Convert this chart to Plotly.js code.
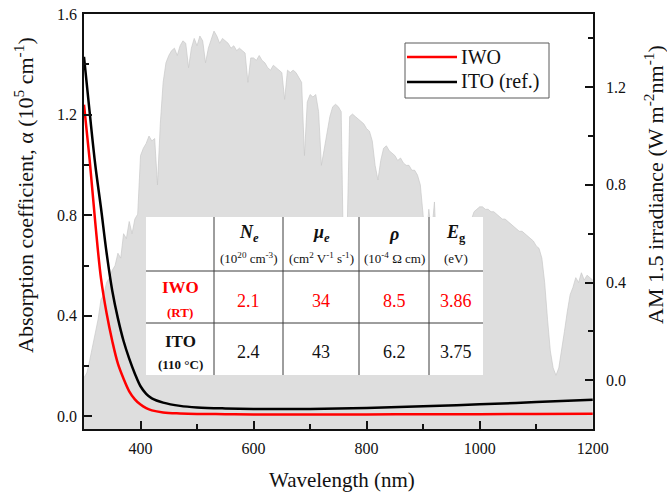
<!DOCTYPE html>
<html>
<head>
<meta charset="utf-8">
<script src="https://cdn.plot.ly/plotly-3.0.1.min.js"></script>
<style>html,body{margin:0;padding:0;background:#fff;}#chart{width:667px;height:494px;}</style>
</head>
<body>
<div id="chart"></div>
<script>
// ---------- data ----------
const wlCurve = [300,310,320,330,340,350,360,370,380,390,400,410,420,440,470,500,550,600,700,800,900,1000,1100,1200];
const iwoAlpha = [1.24,1.02,0.77,0.55,0.41,0.30,0.21,0.15,0.10,0.068,0.047,0.033,0.024,0.016,0.012,0.010,0.009,0.008,0.008,0.008,0.009,0.009,0.010,0.011];
const itoAlpha = [1.43,1.21,1.00,0.83,0.65,0.50,0.39,0.30,0.23,0.17,0.12,0.09,0.072,0.055,0.042,0.036,0.032,0.030,0.030,0.034,0.040,0.048,0.057,0.066];

const wlSun = [300,305,310,315,320,325,330,335,340,345,350,355,360,365,370,375,380,385,390,395,
 400,405,410,415,420,425,430,435,440,445,450,455,460,465,470,475,480,485,490,495,
 500,505,510,515,520,525,530,535,540,545,550,555,560,565,570,575,580,585,590,595,
 600,605,610,615,620,625,630,635,640,645,650,655,660,665,670,675,680,685,690,695,
 700,705,710,715,720,725,730,735,740,745,750,755,760,765,770,775,780,785,790,795,
 800,805,810,815,820,825,830,835,840,845,850,855,860,865,870,875,880,885,890,895,
 900,905,910,915,920,925,930,935,940,945,950,955,960,965,970,975,980,985,990,995,
 1000,1005,1010,1015,1020,1025,1030,1035,1040,1045,1050,1055,1060,1065,1070,1075,1080,1085,1090,1095,
 1100,1105,1110,1115,1120,1125,1130,1135,1140,1145,1150,1155,1160,1165,1170,1175,1180,1185,1190,1195,1200];
const sunIrr = [0.01,0.03,0.08,0.14,0.19,0.25,0.33,0.35,0.40,0.42,0.45,0.47,0.52,0.50,0.60,0.58,0.65,0.60,0.66,0.68,
 0.92,0.95,0.97,1.00,0.98,0.99,0.80,1.05,1.22,1.30,1.33,1.35,1.36,1.33,1.37,1.39,1.38,1.28,1.36,1.40,
 1.37,1.41,1.39,1.30,1.36,1.40,1.43,1.41,1.38,1.40,1.39,1.38,1.36,1.37,1.35,1.36,1.35,1.34,1.22,1.32,
 1.32,1.31,1.33,1.31,1.30,1.28,1.27,1.29,1.28,1.27,1.26,1.15,1.27,1.26,1.27,1.26,1.24,1.22,0.92,1.14,
 1.17,1.16,1.17,1.10,0.88,0.95,1.02,1.08,1.12,1.13,1.12,1.10,0.35,0.55,1.08,1.09,1.08,1.07,1.06,1.05,
 1.03,1.02,0.98,0.88,0.82,0.90,0.95,0.96,0.94,0.93,0.92,0.90,0.91,0.89,0.88,0.88,0.86,0.86,0.84,0.80,
 0.68,0.55,0.70,0.60,0.73,0.45,0.30,0.20,0.15,0.25,0.35,0.30,0.45,0.55,0.60,0.65,0.62,0.66,0.69,0.70,
 0.71,0.71,0.70,0.70,0.69,0.69,0.68,0.67,0.66,0.66,0.65,0.64,0.63,0.62,0.61,0.61,0.60,0.59,0.58,0.57,
 0.55,0.54,0.50,0.40,0.25,0.12,0.05,0.02,0.05,0.12,0.20,0.28,0.35,0.38,0.42,0.40,0.44,0.41,0.43,0.42,0.41];

const seriesNames = ['IWO', 'ITO (ref.)'];
const xTickVals = [400, 600, 800, 1000, 1200];

// table contents
const colHeads = ['<b><i>N</i><sub><i>e</i></sub></b>', '<b><i>μ</i><sub><i>e</i></sub></b>', '<b><i>ρ</i></b>', '<b><i>E</i><sub>g</sub></b>'];
const colUnits = ['(10<sup>20</sup> cm<sup>-3</sup>)', '(cm<sup>2</sup> V<sup>-1</sup> s<sup>-1</sup>)', '(10<sup>-4</sup> Ω cm)', '(eV)'];
const rowNames = ['IWO', 'ITO'];
const rowConds = ['(RT)', '(110 °C)'];
const iwoProps = ['2.1', '34', '8.5', '3.86'];
const itoProps = ['2.4', '43', '6.2', '3.75'];

// ---------- layout helpers ----------
const W = 667, H = 494;
const L = 84, R = 593, T = 14, B = 429;
const px = x => (x - L) / (R - L);
const py = y => (B - y) / (B - T);
const FONT = 'Liberation Serif';
const Y2MIN = -0.2;

const traces = [
  {x: [wlSun[0], wlSun[wlSun.length-1]], y: [Y2MIN, Y2MIN], yaxis: 'y', mode: 'lines',
   line: {width: 0, color: 'rgba(0,0,0,0)'}, showlegend: false, hoverinfo: 'skip'},
  {x: wlSun, y: sunIrr, yaxis: 'y', mode: 'lines', fill: 'tonexty',
   fillcolor: 'rgb(222,222,222)', line: {color: 'rgb(200,200,200)', width: 0.7}, showlegend: false},
  {x: wlCurve, y: iwoAlpha, yaxis: 'y2', mode: 'lines', name: seriesNames[0],
   line: {color: 'rgb(255,0,0)', width: 2.5, shape: 'spline'}, showlegend: false},
  {x: wlCurve, y: itoAlpha, yaxis: 'y2', mode: 'lines', name: seriesNames[1],
   line: {color: 'rgb(0,0,0)', width: 2.5, shape: 'spline'}, showlegend: false}
];

const shapes = [];
const annotations = [];

// legend (manual)
shapes.push({type: 'rect', xref: 'paper', yref: 'paper', x0: px(405), x1: px(549), y0: py(43), y1: py(98),
  line: {color: 'rgb(90,90,90)', width: 1}, fillcolor: 'white', layer: 'above'});
const legColors = ['rgb(255,0,0)', 'rgb(0,0,0)'];
const legY = [57, 82];
seriesNames.forEach((n, i) => {
  shapes.push({type: 'line', xref: 'paper', yref: 'paper', x0: px(407), x1: px(457), y0: py(legY[i]), y1: py(legY[i]),
    line: {color: legColors[i], width: 2.5}, layer: 'above'});
  annotations.push({xref: 'paper', yref: 'paper', x: px(459), y: py(legY[i]), xanchor: 'left', yanchor: 'middle',
    text: n, showarrow: false, font: {family: FONT, size: 20, color: '#111'}});
});

// inset table
const tL = 146, tR = 483, tT = 217, tB = 375;
shapes.push({type: 'rect', xref: 'paper', yref: 'paper', x0: px(tL), x1: px(tR), y0: py(tB), y1: py(tT),
  line: {width: 0}, fillcolor: 'white', layer: 'above'});
const vLines = [214, 283, 359, 429];
vLines.forEach(x => shapes.push({type: 'line', xref: 'paper', yref: 'paper', x0: px(x), x1: px(x), y0: py(tT), y1: py(tB),
  line: {color: 'rgb(60,60,60)', width: 1}, layer: 'above'}));
[271, 323].forEach(y => shapes.push({type: 'line', xref: 'paper', yref: 'paper', x0: px(tL), x1: px(tR), y0: py(y), y1: py(y),
  line: {color: 'rgb(60,60,60)', width: 1}, layer: 'above'}));
const colC = [248.5, 321, 394, 456];
const rowNameC = 180;
function tAnn(x, y, text, size, color) {
  annotations.push({xref: 'paper', yref: 'paper', x: px(x), y: py(y), xanchor: 'center', yanchor: 'middle',
    text: text, showarrow: false, font: {family: FONT, size: size, color: color}});
}
colHeads.forEach((h, i) => tAnn(colC[i], 234, h, 18, '#111'));
colUnits.forEach((u, i) => tAnn(colC[i], 258, u, 13, '#111'));
const rowColors = ['rgb(255,0,0)', '#111'];
const rowVals = [iwoProps, itoProps];
const rowTop = [287, 341], rowBot = [312, 364], rowMid = [301, 352];
rowNames.forEach((n, r) => {
  tAnn(rowNameC, rowTop[r], '<b>' + n + '</b>', 17, rowColors[r]);
  tAnn(rowNameC, rowBot[r], '<b>' + rowConds[r] + '</b>', 13, rowColors[r]);
  rowVals[r].forEach((v, i) => tAnn(colC[i], rowMid[r], v, 18, rowColors[r]));
});

// axis titles as annotations
annotations.push({xref: 'paper', yref: 'paper', x: px(342), y: py(480), xanchor: 'center', yanchor: 'middle',
  text: 'Wavelength (nm)', showarrow: false, font: {family: FONT, size: 21, color: '#111'}});
annotations.push({xref: 'paper', yref: 'paper', x: px(24), y: py(195), xanchor: 'center', yanchor: 'middle', textangle: -90,
  text: 'Absorption coefficient, α (10<sup>5</sup> cm<sup>-1</sup>)', showarrow: false, font: {family: FONT, size: 22, color: '#111'}});
annotations.push({xref: 'paper', yref: 'paper', x: px(654), y: py(185), xanchor: 'center', yanchor: 'middle', textangle: -90,
  text: 'AM 1.5 irradiance (W m<sup>-2</sup>nm<sup>-1</sup>)', showarrow: false, font: {family: FONT, size: 22, color: '#111'}});

const layout = {
  width: W, height: H,
  margin: {l: L, r: W - R, t: T, b: H - B, pad: 0},
  paper_bgcolor: 'white', plot_bgcolor: 'white',
  showlegend: false,
  font: {family: FONT, size: 16, color: '#111'},
  xaxis: {range: [300, 1200.5], tickvals: xTickVals, ticks: 'inside', ticklen: 8, tickwidth: 1.5, tickcolor: '#111',
    showline: true, linecolor: '#111', linewidth: 1.5, mirror: true, showgrid: false, zeroline: false,
    tickfont: {family: FONT, size: 16, color: '#111'}, ticklabelstandoff: 4,
    minor: {ticks: 'inside', ticklen: 5, tickwidth: 1.5, tickcolor: '#111', tick0: 300, dtick: 100, showgrid: false}},
  yaxis: {range: [Y2MIN, 1.5], side: 'right', tick0: 0, dtick: 0.4, tickformat: '.1f', ticks: 'inside', ticklen: 8, tickwidth: 1.5,
    tickcolor: '#111', showline: true, linecolor: '#111', linewidth: 1.5, showgrid: false, zeroline: false,
    tickfont: {family: FONT, size: 16, color: '#111'}, ticklabelstandoff: 8,
    minor: {ticks: 'inside', ticklen: 5, tickwidth: 1.5, tickcolor: '#111', tick0: 0, dtick: 0.2, showgrid: false}},
  yaxis2: {range: [-0.05, 1.6005], overlaying: 'y', side: 'left', tick0: 0, dtick: 0.4, tickformat: '.1f', ticks: 'inside', ticklen: 8,
    tickwidth: 1.5, tickcolor: '#111', showline: true, linecolor: '#111', linewidth: 1.5, showgrid: false, zeroline: false,
    tickfont: {family: FONT, size: 16, color: '#111'}, ticklabelstandoff: 2,
    minor: {ticks: 'inside', ticklen: 5, tickwidth: 1.5, tickcolor: '#111', tick0: 0, dtick: 0.2, showgrid: false}},
  shapes: shapes,
  annotations: annotations
};

Plotly.newPlot('chart', traces, layout, {displayModeBar: false});
</script>
</body>
</html>
